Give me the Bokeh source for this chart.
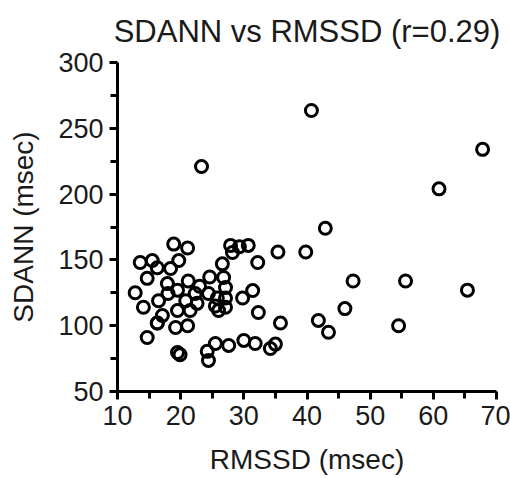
from bokeh.plotting import figure
from bokeh.models import Range1d, FixedTicker, ColumnDataSource
from bokeh.embed import file_html
from bokeh.resources import INLINE

TITLE = "SDANN vs RMSSD (r=0.29)"
X_LABEL = "RMSSD (msec)"
Y_LABEL = "SDANN (msec)"

# RMSSD (msec) values
rmssd = [40.7, 67.8, 60.9, 23.3, 42.9, 39.8, 35.4, 55.6, 47.3, 65.4,
         46.0, 54.5, 41.8, 43.4,
         27.9, 29.3, 30.7, 28.2, 32.2, 26.6, 24.6, 26.8, 27.1, 24.4,
         25.8, 27.1, 29.8, 31.4, 25.5, 27.1, 26.0, 32.3, 35.8,
         25.5, 27.6, 30.0, 31.8, 34.2, 35.0, 24.2, 24.4,
         18.9, 21.1, 13.6, 15.5, 16.3, 19.7, 18.4, 21.2, 14.7, 17.9,
         19.5, 12.8, 16.5, 22.3, 16.3, 20.8, 14.1, 19.5, 17.1, 21.5,
         16.3, 19.2, 21.1, 14.7, 19.5, 19.9, 18.0, 23.0, 22.6]
# SDANN (msec) values
sdann = [263.5, 234.0, 204.0, 221.0, 174.0, 156.0, 156.0, 134.0, 134.0, 127.0,
         113.0, 100.0, 104.0, 95.0,
         161.0, 160.0, 161.0, 155.6, 148.0, 147.0, 137.0, 136.6, 129.0, 124.5,
         121.0, 114.0, 121.0, 126.7, 115.0, 121.0, 111.5, 110.0, 102.0,
         86.5, 85.0, 88.8, 86.5, 82.7, 86.0, 80.5, 73.6,
         162.0, 159.0, 148.0, 149.5, 144.0, 149.5, 143.5, 134.0, 136.0, 132.0,
         127.0, 125.0, 119.0, 124.5, 102.0, 119.0, 114.0, 111.5, 107.8, 111.5,
         102.0, 98.6, 100.0, 91.0, 79.6, 78.0, 124.5, 130.0, 117.0]

x_ticks = [10, 20, 30, 40, 50, 60, 70]
x_minor = [15, 25, 35, 45, 55, 65]
y_ticks = [50, 100, 150, 200, 250, 300]
y_minor = [75, 125, 175, 225, 275]

FONT = "Liberation Sans"

src = ColumnDataSource(data=dict(x=rmssd, y=sdann))

p = figure(width=510, height=478, output_backend="svg", toolbar_location=None,
           x_range=Range1d(x_ticks[0], x_ticks[-1]),
           y_range=Range1d(y_ticks[0], y_ticks[-1]),
           title=TITLE,
           min_border_left=117, min_border_right=14,
           min_border_top=62, min_border_bottom=87)
p.outline_line_color = None
p.xgrid.visible = False
p.ygrid.visible = False
p.background_fill_color = "white"
p.border_fill_color = "white"

p.title.align = "center"
p.title.vertical_align = "top"
p.title.text_font = FONT
p.title.text_font_size = "31px"
p.title.text_font_style = "normal"
p.title.text_color = "#1a1a1a"
p.title.standoff = 24

p.scatter("x", "y", source=src, marker="circle", size=12, line_width=3,
          line_color="black", fill_color=None)

for ax, ticks, minor, label in ((p.xaxis[0], x_ticks, x_minor, X_LABEL),
                                (p.yaxis[0], y_ticks, y_minor, Y_LABEL)):
    ax.ticker = FixedTicker(ticks=ticks, minor_ticks=minor)
    ax.axis_label = label
    ax.axis_label_text_font = FONT
    ax.axis_label_text_font_size = "28px"
    ax.axis_label_text_font_style = "normal"
    ax.axis_label_text_color = "#1a1a1a"
    ax.major_label_text_font = FONT
    ax.major_label_text_font_size = "27px"
    ax.major_label_text_color = "#1a1a1a"
    ax.axis_line_width = 3
    ax.axis_line_color = "black"
    ax.major_tick_line_width = 3
    ax.major_tick_out = 8
    ax.major_tick_in = 0
    ax.minor_tick_line_width = 3
    ax.minor_tick_out = 7
    ax.minor_tick_in = 0
    ax.major_label_standoff = 6

p.yaxis[0].axis_label_standoff = 16
p.xaxis[0].axis_label_standoff = 16

open("out.html", "w").write(file_html(p, INLINE))
